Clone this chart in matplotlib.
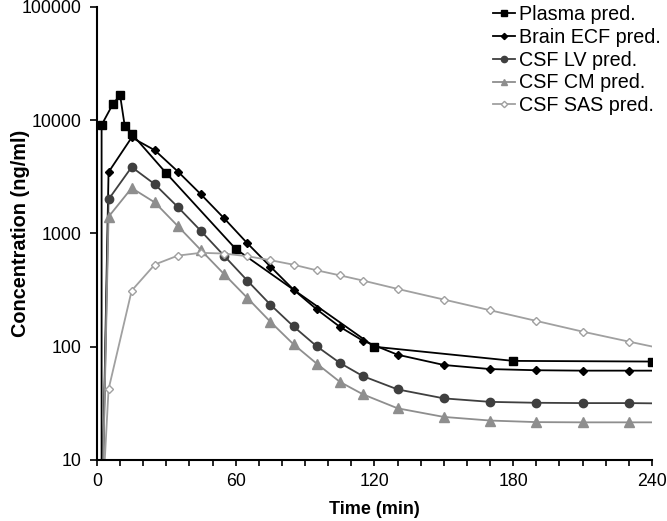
import matplotlib
matplotlib.use("Agg")
import matplotlib.pyplot as plt
from matplotlib.ticker import MultipleLocator, FixedLocator, NullLocator, FuncFormatter

plt.rcParams["font.family"] = ["Liberation Sans", "DejaVu Sans"]

# plasma samples (t=0 is zero before dosing)
plasma_t = [0, 2, 7, 10, 12, 15, 30, 60, 120, 180, 240]
plasma_y = [0, 9090, 14050, 16600, 8900, 7600, 3400, 730, 100, 75, 74]

# brain / csf compartments share the same time grid
comp_t = [2, 5, 15, 25, 35, 45, 55, 65, 75, 85, 95, 105, 115,
          130, 150, 170, 190, 210, 230, 250]
ecf_y = [2, 3480, 7040, 5430, 3520, 2210, 1360, 820, 510, 319, 214, 150, 113,
         85, 69, 63.5, 62, 61.5, 61.5, 61.5]
lv_y = [2, 2000, 3860, 2720, 1710, 1050, 635, 384, 235, 151, 101, 72, 55,
        42, 35, 32.6, 32, 31.8, 31.8, 31.5]
cm_y = [2, 1405, 2520, 1880, 1160, 711, 437, 270, 166, 105, 71, 49, 38,
        28.6, 24, 22.3, 21.6, 21.5, 21.5, 21.5]
sas_y = [3, 42, 313, 532, 638, 675, 665, 630, 581, 530, 473, 427, 384,
         324, 261, 210, 169, 136, 111, 91]

fig = plt.figure(figsize=(6.67, 5.21), dpi=100)
ax = fig.add_axes([0.1454, 0.1171, 0.8321, 0.8695])

ax.plot(plasma_t, plasma_y, color="black", lw=1.3, marker="s", ms=6.2,
        label="Plasma pred.")
ax.plot(comp_t, ecf_y, color="black", lw=1.3, marker="D", ms=4.2,
        label="Brain ECF pred.")
ax.plot(comp_t, lv_y, color="#3f3f3f", lw=1.3, marker="o", ms=6,
        label="CSF LV pred.")
ax.plot(comp_t, cm_y, color="#8e8e8e", lw=1.3, marker="^", ms=6.5,
        label="CSF CM pred.")
ax.plot(comp_t, sas_y, color="#a0a0a0", lw=1.3, marker="D", ms=4.3,
        mfc="white", mec="#a0a0a0", mew=1.0, label="CSF SAS pred.")

ax.set_yscale("log")
ax.set_ylim(10, 100000)
ax.set_xlim(0, 240)

ax.xaxis.set_major_locator(FixedLocator([0, 60, 120, 180, 240]))
ax.xaxis.set_minor_locator(MultipleLocator(10))
ax.yaxis.set_major_locator(FixedLocator([10, 100, 1000, 10000, 100000]))
ax.yaxis.set_minor_locator(NullLocator())
ax.yaxis.set_major_formatter(FuncFormatter(lambda v, p: f"{int(round(v))}"))

for s in ["top", "right"]:
    ax.spines[s].set_visible(False)
for s in ["left", "bottom"]:
    ax.spines[s].set_linewidth(1.5)

ax.tick_params(axis="both", which="both", direction="out", width=1.2,
               labelsize=12.8, colors="black")
ax.tick_params(axis="y", which="major", length=5, pad=6)
ax.tick_params(axis="x", which="both", length=4.5, pad=5)

ax.set_xlabel("Time (min)", fontsize=13, fontweight="bold", labelpad=8)
ax.set_ylabel("Concentration (ng/ml)", fontsize=14.3, fontweight="bold")
ax.yaxis.set_label_coords(-0.12, 0.5)

ax.legend(loc="upper left", bbox_to_anchor=(0.739, 0.99),
          bbox_transform=fig.transFigure, frameon=False, fontsize=14.2,
          handlelength=1.1, handletextpad=0.2, labelspacing=0.19,
          markerscale=0.75, borderaxespad=0.0, borderpad=0.0)

fig.savefig("out.png", dpi=100)
